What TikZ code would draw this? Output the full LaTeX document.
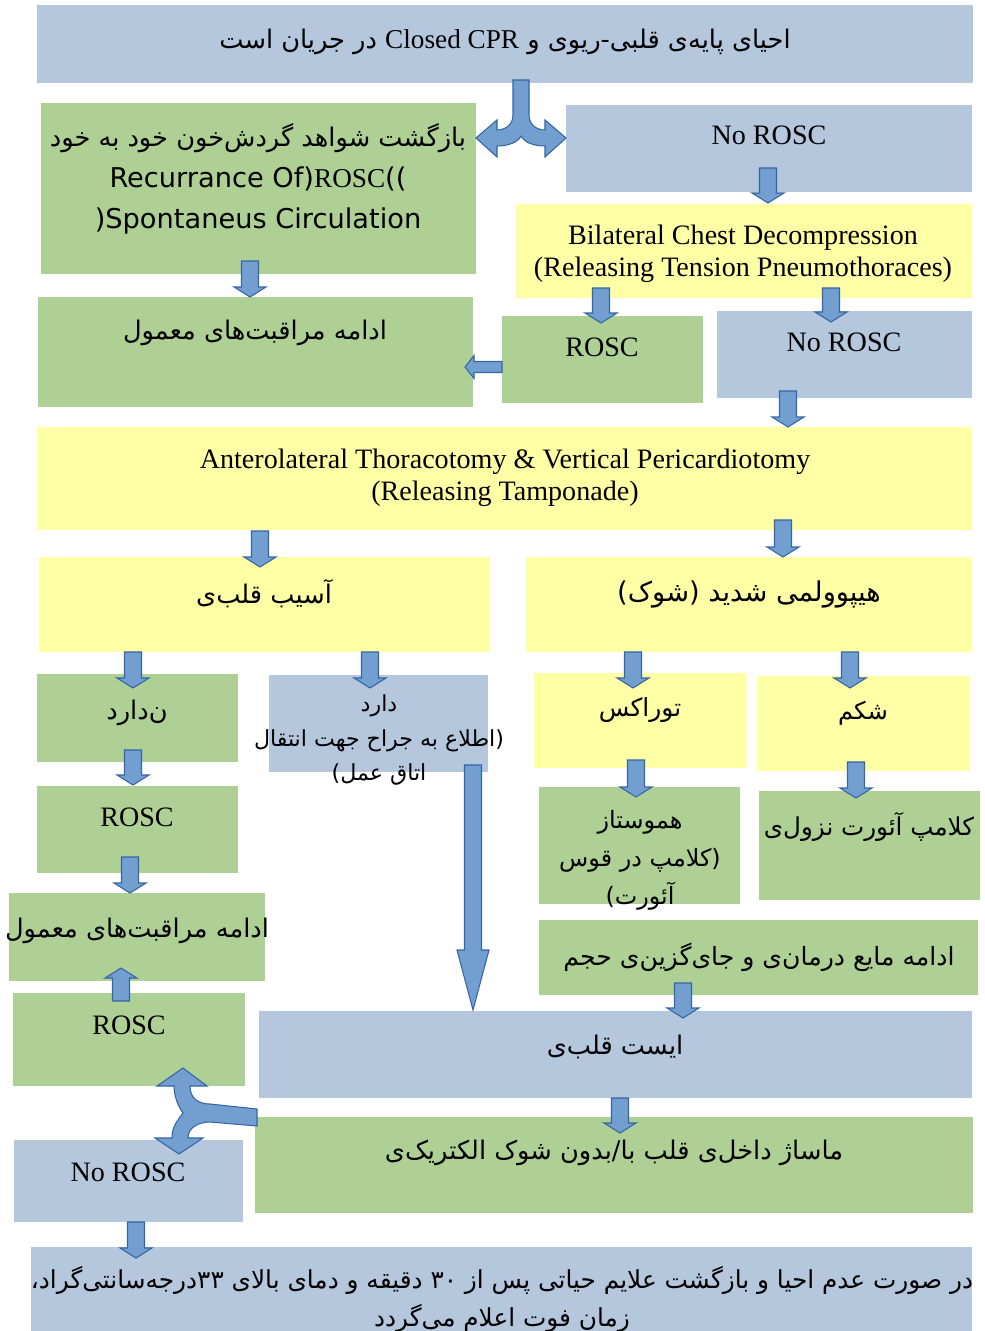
\documentclass[tikz,border=0pt]{standalone}
\usepackage{fontspec}
\setmainfont{Liberation Serif}
\newfontfamily\fa[Script=Arabic]{DejaVu Sans}
\newfontfamily\dvs{DejaVu Sans}
\TeXXeTstate=1
\usetikzlibrary{calc,fit}
\definecolor{boxblue}{HTML}{B4C7DC}
\definecolor{boxgreen}{HTML}{AFD095}
\definecolor{boxyellow}{HTML}{FFFFA6}
\definecolor{arrfill}{HTML}{729FCF}
\definecolor{arrline}{HTML}{3465A4}
\newcommand\arrsw{0.17cm}
\newcommand\arrhw{0.32cm}
\newcommand\arrhl{0.2cm}
\begin{document}
\begin{tikzpicture}[x=0.02cm, y=-0.02cm, line join=miter,
  box/.style={inner sep=0pt, outer sep=0pt, draw=none},
  lat/.style={inner sep=0pt, font=\fontsize{16}{18.2}\selectfont},
  per/.style={inner sep=0pt, font=\fa\fontsize{14.6}{20}\selectfont},
  fork/.style={fill=arrfill, draw=arrline, line width=0.6pt},
  small/.code={\def\arrsw{0.11cm}\def\arrhw{0.23cm}\def\arrhl{0.18cm}},
  long/.code={\def\arrsw{0.17cm}\def\arrhw{0.32cm}\def\arrhl{1.2cm}},
  fat/.style={fork, to path={
    ($(\tikztostart)!\arrsw!90:(\tikztotarget)$)
    -- ($(\tikztotarget)!\arrhl!(\tikztostart)!\arrsw!90:(\tikztotarget)$)
    -- ($(\tikztotarget)!\arrhl!(\tikztostart)!\arrhw!90:(\tikztotarget)$)
    -- (\tikztotarget)
    -- ($(\tikztotarget)!\arrhl!(\tikztostart)!\arrhw!-90:(\tikztotarget)$)
    -- ($(\tikztotarget)!\arrhl!(\tikztostart)!\arrsw!-90:(\tikztotarget)$)
    -- ($(\tikztostart)!\arrsw!-90:(\tikztotarget)$) -- cycle}}]
\useasboundingbox (0,0) rectangle (984,1331);
% boxes
\foreach \n/\xa/\ya/\xb/\yb/\c in {top/37/5/973/83/boxblue, rosc1/41/103/476/274/boxgreen,
  nr1/566/105/972/192/boxblue, bcd/516/204/972/298/boxyellow, care1/38/297/473/407/boxgreen,
  rosc2/502/316/703/403/boxgreen, nr2/717/311/972/398/boxblue, antero/37/427/972/530/boxyellow,
  injury/39/557/490/652/boxyellow, hypo/526/557/972/652/boxyellow, nadarad/37/674/238/762/boxgreen,
  darad/269/675/488/772/boxblue, thorax/534/673/747/768/boxyellow, abdomen/757/676/970/771/boxyellow,
  rosc3/37/786/238/873/boxgreen, hemo/539/787/740/904/boxgreen, clamp/759/791/980/900/boxgreen,
  care3/9/893/265/981/boxgreen, fluid/539/920/978/995/boxgreen, rosc4/13/993/245/1086/boxgreen,
  arrest/259/1011/972/1098/boxblue, nr4/14/1140/243/1222/boxblue, massage/255/1117/973/1213/boxgreen,
  death/31/1247/972/1331/boxblue}
  {\node[box, fill=\c, fit={(\xa,\ya) (\xb,\yb)}] (\n) {};}
% arrows
\draw[fat] ($(nr1.south)+(-1,-24)$) to ($(bcd.north)+(24,-1)$);
\draw[fat] ($(rosc1.south)+(-8.5,-13)$) to ($(care1.north)+(-5.5,0)$);
\draw[fat] ($(bcd.south)+(-143,-10)$) to ($(rosc2.north)+(-1.5,7)$);
\draw[fat] ($(bcd.south)+(87,-10)$) to ($(nr2.north)+(-13.5,11)$);
\draw[fat, small] ($(rosc2.west)+(0,7.5)$) to ($(care1.east)+(-8,15)$);
\draw[fat] ($(nr2.south)+(-56.5,-7)$) to ($(antero.north)+(283.5,0)$);
\draw[fat] ($(antero.south)+(-244.5,1)$) to ($(injury.north)+(-4.5,10)$);
\draw[fat] ($(antero.south)+(278.5,-10)$) to ($(hypo.north)+(34,0)$);
\draw[fat] ($(injury.south)+(-131.5,0)$) to ($(nadarad.north)+(-4.5,14)$);
\draw[fat] ($(injury.south)+(105.5,0)$) to ($(darad.north)+(-8.5,13)$);
\draw[fat] ($(hypo.south)+(-116,0)$) to ($(thorax.north)+(-7.5,15)$);
\draw[fat] ($(hypo.south)+(101,0)$) to ($(abdomen.north)+(-13.5,12)$);
\draw[fat] ($(nadarad.south)+(-4.5,-12)$) to ($(rosc3.north)+(-4.5,-1)$);
\draw[fat] ($(thorax.south)+(-4.5,-8)$) to ($(hemo.north)+(-3.5,10)$);
\draw[fat] ($(abdomen.south)+(-7.5,-9)$) to ($(clamp.north)+(-13.5,7)$);
\draw[fat] ($(rosc3.south)+(-7.5,-16)$) to ($(care3.north)+(-7,0)$);
\draw[fat] ($(rosc4.north)+(-8,8)$) to ($(care3.south)+(-16,-13)$);
\draw[fat, long] ($(darad.south)+(94.5,-7)$) to ($(arrest.north)+(-142.5,-1)$);
\draw[fat] ($(fluid.south)+(-75.5,-12)$) to ($(arrest.north)+(67.5,7)$);
\draw[fat] ($(arrest.south)+(4.5,0)$) to ($(massage.north)+(6,16)$);
\draw[fat] ($(nr4.south)+(7.5,0)$) to ($(death.north)+(-365.5,11)$);
% split arrows
\coordinate (fork1) at ($(top.south)+(16,-3)$);
\draw[fork, shift={(fork1)}] (-8,0) -- (-8,35) .. controls (-8,45) and (-16,50) .. (-24,50)
  -- (-24,40) -- (-45,58) -- (-24,77) -- (-24,66) .. controls (-12,66) and (-3,62) .. (0,56)
  .. controls (3,62) and (12,66) .. (24,66) -- (24,77) -- (45,58) -- (24,40) -- (24,50)
  .. controls (16,50) and (8,45) .. (8,35) -- (8,0) -- cycle;
\coordinate (fork2) at ($(massage.north west)+(2,0)$);
\draw[fork, shift={(fork2)}] (0,-8) -- (-47,-13) .. controls (-59,-13) and (-67,-19) .. (-67,-31)
  -- (-50,-31) -- (-74,-49) -- (-100,-31) -- (-83,-31) .. controls (-83,-21) and (-79,-11) .. (-74,-4)
  .. controls (-79,3) and (-85,9) .. (-85,21) -- (-102,21) -- (-78,37) -- (-54,21) -- (-69,21)
  .. controls (-69,11) and (-59,5) .. (-47,5) -- (0,9) -- cycle;
% texts
\node[per] (topt) at (505,42) {\beginR احیای پایه^^^^200cی قلبی-ریوی و \beginL{\rmfamily\fontsize{15.5}{20}\selectfont Closed CPR}\endL{} در جریان است\endR};
\node[per, align=center, font=\fa\fontsize{14.6}{23.3}\selectfont] (rosc1t) at (258,179)
  {\beginR بازگشت شواهد گردش^^^^200cخون خود به خود\endR\\{\dvs\fontsize{15.5}{23.3}\selectfont Recurrance Of)}{\rmfamily\fontsize{15.5}{23.3}\selectfont ROSC}{\dvs\fontsize{15.5}{23.3}\selectfont ((}\\{\dvs\fontsize{15.5}{23.3}\selectfont )Spontaneus Circulation}};
\node[lat] (nr1t) at (769,135) {No ROSC};
\node[lat, align=center] (bcdt) at (743,254) {Bilateral Chest Decompression\\(Releasing Tension Pneumothoraces)};
\node[per] (care1t) at (255,333) {\beginR ادامه مراقبت^^^^200cهای معمول\endR};
\node[lat] (rosc2t) at (602,347) {ROSC};
\node[lat] (nr2t) at (844,342) {No ROSC};
\node[lat, align=center] (anterot) at (505,478) {Anterolateral Thoracotomy \& Vertical Pericardiotomy\\(Releasing Tamponade)};
\node[per] (injuryt) at (264,594) {\beginR آسیب قلب^^^^200cی\endR};
\node[per, font=\fa\fontsize{15.5}{20}\selectfont] (hypot) at (749,594) {\beginR هیپوولمی شدید (شوک)\endR};
\node[per] (nadaradt) at (137,713) {\beginR ن^^^^200cدارد\endR};
\node[per, align=center, font=\fa\fontsize{12.6}{19.9}\selectfont] (daradt) at (379,740)
  {\beginR دارد\endR\\\beginR اطلاع به جراح جهت انتقال\endR(\\)\beginR اتاق عمل\endR};
\node[per, font=\fa\fontsize{14.2}{20}\selectfont] (thoraxt) at (640,710) {\beginR توراکس\endR};
\node[per, font=\fa\fontsize{13.8}{20}\selectfont] (abdoment) at (863,713) {\beginR شکم\endR};
\node[lat] (rosc3t) at (137,817) {ROSC};
\node[per, align=center, font=\fa\fontsize{13.6}{21.6}\selectfont] (hemot) at (640,860)
  {\beginR هموستاز\endR\\\beginR کلامپ در قوس\endR(\\)\beginR آئورت\endR};
\node[per, font=\fa\fontsize{14}{20}\selectfont] (clampt) at (869,827) {\beginR کلامپ آئورت نزول^^^^200cی\endR};
\node[per] (care3t) at (137,931) {\beginR ادامه مراقبت^^^^200cهای معمول\endR};
\node[per, font=\fa\fontsize{14.3}{20}\selectfont] (fluidt) at (759,957) {\beginR ادامه مایع درمان^^^^200cی و جای^^^^200cگزین^^^^200cی حجم\endR};
\node[lat] (rosc4t) at (129,1025) {ROSC};
\node[per] (arrestt) at (615,1047) {\beginR ایست قلب^^^^200cی\endR};
\node[lat] (nr4t) at (128,1172) {No ROSC};
\node[per] (massaget) at (614,1153) {\beginR ماساژ داخل^^^^200cی قلب با/بدون شوک الکتریک^^^^200cی\endR};
\node[per, align=center, font=\fa\fontsize{14.1}{21.6}\selectfont] (deatht) at (502,1299)
  {\beginR در صورت عدم احیا و بازگشت علایم حیاتی پس از ۳۰ دقیقه و دمای بالای ۳۳درجه^^^^200cسانتی^^^^200cگراد،\endR\\\beginR زمان فوت اعلام می^^^^200cگردد\endR};
\end{tikzpicture}
\end{document}
